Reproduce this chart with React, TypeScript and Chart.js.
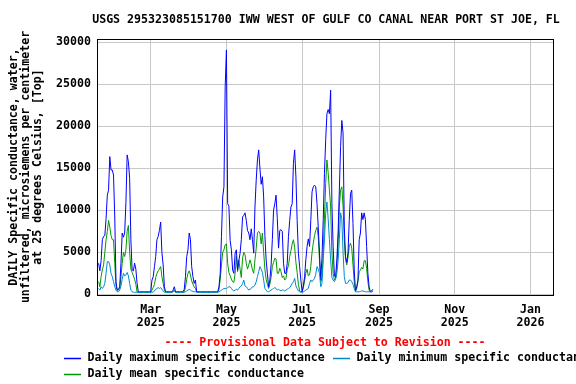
import { useEffect, useRef } from "react";
import { Chart, registerables } from "chart.js";

Chart.register(...registerables);

// Day index 0 = 1 Jan 2025. First daily value is for day START_DAY.
const START_DAY = 17;

const maxValues = [
  3700, 2800, 4000, 6500, 6900, 7000, 9000, 11800, 12400, 16400,
  14800, 14800, 14200, 9200, 1500, 500, 600, 900, 3700, 7300,
  6800, 7300, 10900, 16600, 15800, 13800, 6500, 2900, 2800, 3700,
  3000, 1300, 300, 300, 300, 300, 300, 300, 300, 300,
  300, 300, 300, 1700, 2100, 3300, 4500, 6500, 6900, 7600,
  8600, 5000, 3500, 900, 300, 300, 300, 300, 300, 300,
  500, 900, 300, 300, 300, 300, 300, 300, 300, 600,
  2100, 4500, 5300, 7300, 6500, 3300, 2100, 1300, 1700, 300,
  300, 300, 300, 300, 300, 300, 300, 300, 300, 300,
  300, 300, 300, 300, 300, 300, 300, 900, 2500, 6900,
  11600, 12800, 24700, 29100, 10800, 10500, 6400, 5300, 2900, 2500,
  4900, 5300, 2900, 4000, 4900, 6500, 9200, 9400, 9700, 8800,
  7600, 7300, 6500, 7800, 6500, 4900, 10400, 13600, 16000, 17200,
  15000, 13100, 14000, 11600, 7000, 4100, 2500, 900, 1700, 3500,
  6500, 10000, 10800, 11800, 9000, 5500, 7600, 7700, 7500, 3700,
  2500, 2500, 3700, 6900, 8800, 10400, 10800, 15600, 17200, 14000,
  8800, 4900, 3300, 1700, 300, 1000, 2100, 4100, 5700, 6600,
  5700, 8800, 12200, 12800, 13000, 12800, 10800, 8000, 5000, 1700,
  4300, 8800, 14400, 18400, 21500, 22000, 21500, 24300, 10800, 5700,
  2300, 2000, 4100, 7300, 12400, 17600, 20700, 19200, 8000, 4500,
  3800, 5000, 8800, 12000, 12400, 8400, 2900, 400, 900, 1700,
  6500, 7300, 9700, 8900, 9700, 8900, 5700, 2500, 900, 300,
  400, 600,
];

const meanValues = [
  1500, 900, 2100, 2900, 3500, 5000, 6500, 7500, 8800, 8000,
  7000, 6500, 6500, 3700, 1000, 500, 500, 700, 2100, 3700,
  5000, 4500, 5300, 7500, 8200, 5000, 3000, 2600, 2200, 1800,
  1200, 300, 250, 250, 250, 250, 250, 250, 250, 250,
  250, 250, 250, 500, 800, 1200, 2000, 2500, 2800, 3000,
  3300, 2100, 1300, 500, 250, 250, 250, 250, 250, 250,
  350, 500, 250, 250, 250, 250, 250, 250, 250, 300,
  800, 1800, 2500, 2800, 2300, 1600, 1200, 900, 700, 300,
  250, 250, 250, 250, 250, 250, 250, 250, 250, 250,
  250, 250, 250, 250, 250, 250, 250, 600, 1800, 3500,
  5000, 5300, 5900, 6000, 3700, 2600, 2200, 1800, 1500, 1400,
  2500, 4500, 2700, 4100, 3000, 2000, 4300, 5000, 4700, 3700,
  3000, 3500, 4100, 3600, 2900, 2500, 4100, 5500, 7300, 7500,
  7300, 6000, 7300, 5000, 3000, 1800, 1200, 700, 1200, 2000,
  3300, 3800, 4300, 4200, 2500, 2500, 3100, 2700, 2000, 2200,
  1700, 1900, 3000, 3400, 4500, 5200, 6000, 6500, 5600, 3800,
  2600, 1200, 400, 300, 300, 800, 1600, 2500, 3000, 2200,
  2300, 3300, 5000, 6100, 7000, 7600, 8000, 6900, 4000, 1500,
  2000, 4900, 9000, 13200, 16000, 14500, 12400, 10400, 5000, 2500,
  1700, 1900, 3300, 6000, 10400, 12400, 12800, 10500, 6500, 4100,
  3500, 4400, 5700, 6100, 5500, 3500, 1500, 350, 700, 1500,
  2700, 2900, 3200, 3000, 4000, 4000, 3100, 1500, 500, 300,
  300, 400,
];

const minValues = [
  700, 500, 900, 700, 900, 1300, 2500, 3900, 3900, 3500,
  2500, 2100, 1500, 900, 500, 300, 300, 500, 1000, 1800,
  2500, 2200, 2300, 2600, 2200, 1300, 500, 300, 250, 250,
  250, 250, 250, 250, 250, 250, 250, 250, 250, 250,
  250, 250, 250, 250, 250, 400, 600, 700, 800, 700,
  800, 600, 400, 250, 250, 250, 250, 250, 250, 250,
  300, 350, 250, 250, 250, 250, 250, 250, 250, 250,
  300, 400, 500, 600, 500, 400, 350, 300, 300, 250,
  250, 250, 250, 250, 250, 250, 250, 250, 250, 250,
  250, 250, 250, 250, 250, 250, 250, 300, 400, 500,
  600, 700, 700, 700, 800, 900, 900, 700, 500, 400,
  500, 600, 500, 700, 900, 1000, 1300, 1700, 1000, 900,
  700, 500, 600, 700, 900, 900, 1100, 1500, 2100, 2700,
  3300, 3000, 2600, 1700, 700, 500, 300, 300, 400, 500,
  600, 700, 800, 700, 500, 600, 500, 400, 500, 500,
  400, 500, 600, 700, 800, 1000, 1300, 1500, 1900, 1000,
  700, 400, 300, 250, 250, 300, 400, 500, 600, 700,
  1300, 1700, 1500, 1700, 1900, 2400, 3300, 3000, 2500, 900,
  1300, 4100, 6500, 9700, 11000, 9000, 6500, 4100, 2000, 1700,
  1500, 1800, 2500, 4000, 6500, 9700, 9000, 5000, 2100, 1300,
  1300, 1400, 1700, 1700, 1500, 1200, 700, 300, 300, 300,
  300, 350, 400, 400, 350, 300, 300, 300, 300, 300,
  300, 350,
];

const xTickDays = [59, 120, 181, 243, 304, 365];
const xTickLabels = [
  ["Mar", "2025"],
  ["May", "2025"],
  ["Jul", "2025"],
  ["Sep", "2025"],
  ["Nov", "2025"],
  ["Jan", "2026"],
];
const yTicks = [0, 5000, 10000, 15000, 20000, 25000, 30000];

const TITLE = "USGS 295323085151700 IWW WEST OF GULF CO CANAL NEAR PORT ST JOE, FL";
const Y_TITLE = [
  "DAILY Specific conductance, water,",
  "unfiltered, microsiemens per centimeter",
  "at 25 degrees Celsius, [Top]",
];
const PROVISIONAL = "---- Provisional Data Subject to Revision ----";
const SERIES_NAMES = [
  "Daily maximum specific conductance",
  "Daily minimum specific conductance",
  "Daily mean specific conductance",
];
const COLORS = { max: "#0000ff", min: "#0088cc", mean: "#009900" };

const FAMILY = "'DejaVu Sans Mono', monospace";
const FONT_SIZE = 11.6;
const FONT = `bold ${FONT_SIZE}px ${FAMILY}`;

const toPoints = (vals: number[]) => vals.map((v, i) => ({ x: START_DAY + i, y: v }));

const decorPlugin = {
  id: "decor",
  afterDraw(chart: any) {
    const { ctx, chartArea: a } = chart;
    ctx.save();
    // frame
    ctx.strokeStyle = "#000";
    ctx.lineWidth = 1;
    ctx.strokeRect(Math.round(a.left) - 0.5, Math.round(a.top) + 0.5, Math.round(a.right - a.left), Math.round(a.bottom - a.top) - 1);

    const cx = (a.left + a.right) / 2;
    ctx.font = FONT;
    ctx.textBaseline = "middle";
    // title
    ctx.fillStyle = "#000";
    ctx.textAlign = "center";
    ctx.fillText(TITLE, cx, 20);

    // provisional
    ctx.fillStyle = "#ff0000";
    ctx.fillText(PROVISIONAL, cx - 1, 342.5);

    // y-axis title
    ctx.save();
    ctx.translate(0, 167);
    ctx.rotate(-Math.PI / 2);
    ctx.fillStyle = "#000";
    ctx.textAlign = "center";
    const xs = [14, 26, 38];
    Y_TITLE.forEach((t, i) => ctx.fillText(t, 0, xs[i]));
    ctx.restore();

    // legend
    const items = [
      { color: COLORS.max, text: SERIES_NAMES[0], lx: 64, tx: 87.5, y: 357.5 },
      { color: COLORS.min, text: SERIES_NAMES[1], lx: 333, tx: 356.5, y: 357.5 },
      { color: COLORS.mean, text: SERIES_NAMES[2], lx: 64, tx: 87.5, y: 373.5 },
    ];
    ctx.textAlign = "left";
    items.forEach((it) => {
      ctx.strokeStyle = it.color;
      ctx.lineWidth = 1.5;
      ctx.beginPath();
      ctx.moveTo(it.lx, Math.round(it.y) + 0.5);
      ctx.lineTo(it.lx + 17, Math.round(it.y) + 0.5);
      ctx.stroke();
      ctx.fillStyle = "#000";
      ctx.fillText(it.text, it.tx, it.y);
    });
    ctx.restore();
  },
};

export default function App() {
  const ref = useRef<HTMLCanvasElement>(null);

  useEffect(() => {
    const canvas = ref.current;
    if (!canvas) return;
    const tickFont = { family: FAMILY, size: FONT_SIZE, weight: "bold" as const, lineHeight: 1.08 };
    const chart = new Chart(canvas, {
      type: "line",
      data: {
        datasets: [
          { label: SERIES_NAMES[1], data: toPoints(minValues), borderColor: COLORS.min, borderWidth: 1, pointRadius: 0, fill: false, tension: 0, order: 0 },
          { label: SERIES_NAMES[0], data: toPoints(maxValues), borderColor: COLORS.max, borderWidth: 1, pointRadius: 0, fill: false, tension: 0, order: 1 },
          { label: SERIES_NAMES[2], data: toPoints(meanValues), borderColor: COLORS.mean, borderWidth: 1, pointRadius: 0, fill: false, tension: 0, order: 2 },
        ],
      },
      options: {
        responsive: false,
        animation: false,
        events: [],
        layout: { padding: { left: 0, right: 22, top: 39, bottom: 0 } },
        plugins: {
          legend: { display: false },
          tooltip: { enabled: false },
          title: { display: false },
        },
        scales: {
          x: {
            type: "linear",
            min: 16.5,
            max: 384,
            afterBuildTicks: (s: any) => {
              s.ticks = xTickDays.map((v) => ({ value: v }));
            },
            afterFit: (s: any) => {
              s.height = 88;
            },
            ticks: {
              autoSkip: false,
              maxRotation: 0,
              minRotation: 0,
              padding: 8,
              color: "#000",
              font: tickFont,
              callback: (v: any) => {
                const i = xTickDays.indexOf(Number(v));
                return i >= 0 ? xTickLabels[i] : "";
              },
            },
            grid: { color: "#c8c8c8", lineWidth: 1, drawTicks: false },
            border: { display: false },
          },
          y: {
            type: "linear",
            min: -200,
            max: 30400,
            afterBuildTicks: (s: any) => {
              s.ticks = yTicks.map((v) => ({ value: v }));
            },
            afterFit: (s: any) => {
              s.width = 98;
            },
            ticks: {
              padding: 7,
              color: "#000",
              font: tickFont,
              callback: (v: any) => String(v),
            },
            grid: { color: "#c8c8c8", lineWidth: 1, drawTicks: false },
            border: { display: false },
          },
        },
      },
      plugins: [decorPlugin],
    });
    return () => chart.destroy();
  }, []);

  return (
    <div style={{ position: "absolute", left: 0, top: 0, width: 576, height: 384, background: "#fff" }}>
      <canvas ref={ref} width={576} height={384} style={{ display: "block", width: 576, height: 384 }} />
    </div>
  );
}
